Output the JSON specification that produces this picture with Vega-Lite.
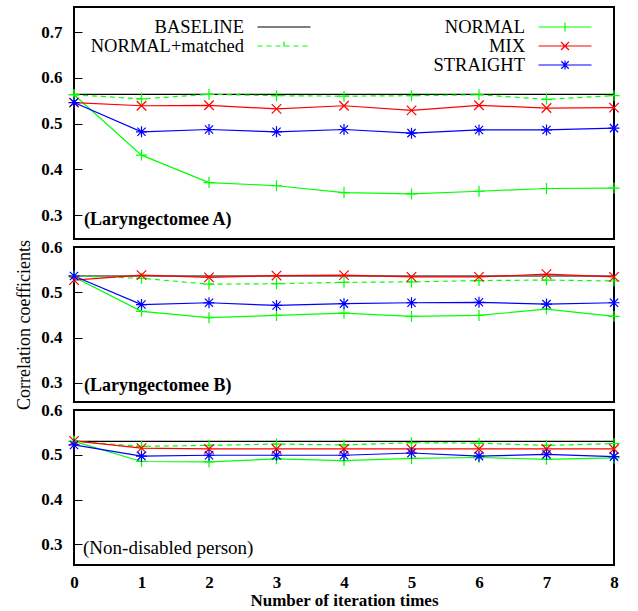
{
  "$schema": "https://vega.github.io/schema/vega-lite/v6.json",
  "padding": {"left": 14, "top": 6, "right": 10, "bottom": 5},
  "bounds": "flush",
  "spacing": 8,
  "config": {
    "font": "Liberation Serif, Times New Roman, DejaVu Serif, serif",
    "view": {"stroke": "black", "strokeWidth": 2},
    "axis": {"grid": false, "domain": false, "labelFont": "Liberation Serif, Times New Roman, DejaVu Serif, serif", "labelFontSize": 17, "labelFontWeight": "bold", "labelColor": "black", "tickColor": "black", "titleColor": "black", "titleFont": "Liberation Serif, Times New Roman, DejaVu Serif, serif"},
    "legend": {"labelFont": "Liberation Serif, Times New Roman, DejaVu Serif, serif", "labelFontSize": 18.5, "labelColor": "black", "symbolSize": 2809, "symbolStrokeWidth": 1.2, "rowPadding": -1.2, "padding": 0, "title": null, "orient": "none"},
    "text": {"font": "Liberation Serif, Times New Roman, DejaVu Serif, serif"}
  },
  "datasets": {
    "d": [
      {"p":"A","s":"BASELINE","x":0,"y":0.564},{"p":"A","s":"BASELINE","x":1,"y":0.564},{"p":"A","s":"BASELINE","x":2,"y":0.564},{"p":"A","s":"BASELINE","x":3,"y":0.564},{"p":"A","s":"BASELINE","x":4,"y":0.564},{"p":"A","s":"BASELINE","x":5,"y":0.564},{"p":"A","s":"BASELINE","x":6,"y":0.564},{"p":"A","s":"BASELINE","x":7,"y":0.564},{"p":"A","s":"BASELINE","x":8,"y":0.564},
      {"p":"A","s":"NORMAL+matched","x":0,"y":0.563},{"p":"A","s":"NORMAL+matched","x":1,"y":0.554},{"p":"A","s":"NORMAL+matched","x":2,"y":0.564},{"p":"A","s":"NORMAL+matched","x":3,"y":0.561},{"p":"A","s":"NORMAL+matched","x":4,"y":0.560},{"p":"A","s":"NORMAL+matched","x":5,"y":0.561},{"p":"A","s":"NORMAL+matched","x":6,"y":0.563},{"p":"A","s":"NORMAL+matched","x":7,"y":0.553},{"p":"A","s":"NORMAL+matched","x":8,"y":0.561},
      {"p":"A","s":"NORMAL","x":0,"y":0.563},{"p":"A","s":"NORMAL","x":1,"y":0.431},{"p":"A","s":"NORMAL","x":2,"y":0.371},{"p":"A","s":"NORMAL","x":3,"y":0.364},{"p":"A","s":"NORMAL","x":4,"y":0.349},{"p":"A","s":"NORMAL","x":5,"y":0.346},{"p":"A","s":"NORMAL","x":6,"y":0.352},{"p":"A","s":"NORMAL","x":7,"y":0.358},{"p":"A","s":"NORMAL","x":8,"y":0.359},
      {"p":"A","s":"MIX","x":0,"y":0.546},{"p":"A","s":"MIX","x":1,"y":0.539},{"p":"A","s":"MIX","x":2,"y":0.540},{"p":"A","s":"MIX","x":3,"y":0.532},{"p":"A","s":"MIX","x":4,"y":0.539},{"p":"A","s":"MIX","x":5,"y":0.529},{"p":"A","s":"MIX","x":6,"y":0.540},{"p":"A","s":"MIX","x":7,"y":0.534},{"p":"A","s":"MIX","x":8,"y":0.535},
      {"p":"A","s":"STRAIGHT","x":0,"y":0.546},{"p":"A","s":"STRAIGHT","x":1,"y":0.482},{"p":"A","s":"STRAIGHT","x":2,"y":0.487},{"p":"A","s":"STRAIGHT","x":3,"y":0.482},{"p":"A","s":"STRAIGHT","x":4,"y":0.487},{"p":"A","s":"STRAIGHT","x":5,"y":0.479},{"p":"A","s":"STRAIGHT","x":6,"y":0.486},{"p":"A","s":"STRAIGHT","x":7,"y":0.486},{"p":"A","s":"STRAIGHT","x":8,"y":0.490},
      {"p":"B","s":"BASELINE","x":0,"y":0.536},{"p":"B","s":"BASELINE","x":1,"y":0.536},{"p":"B","s":"BASELINE","x":2,"y":0.536},{"p":"B","s":"BASELINE","x":3,"y":0.536},{"p":"B","s":"BASELINE","x":4,"y":0.536},{"p":"B","s":"BASELINE","x":5,"y":0.536},{"p":"B","s":"BASELINE","x":6,"y":0.536},{"p":"B","s":"BASELINE","x":7,"y":0.536},{"p":"B","s":"BASELINE","x":8,"y":0.536},
      {"p":"B","s":"NORMAL+matched","x":0,"y":0.536},{"p":"B","s":"NORMAL+matched","x":1,"y":0.531},{"p":"B","s":"NORMAL+matched","x":2,"y":0.518},{"p":"B","s":"NORMAL+matched","x":3,"y":0.519},{"p":"B","s":"NORMAL+matched","x":4,"y":0.522},{"p":"B","s":"NORMAL+matched","x":5,"y":0.523},{"p":"B","s":"NORMAL+matched","x":6,"y":0.526},{"p":"B","s":"NORMAL+matched","x":7,"y":0.527},{"p":"B","s":"NORMAL+matched","x":8,"y":0.525},
      {"p":"B","s":"NORMAL","x":0,"y":0.534},{"p":"B","s":"NORMAL","x":1,"y":0.458},{"p":"B","s":"NORMAL","x":2,"y":0.444},{"p":"B","s":"NORMAL","x":3,"y":0.449},{"p":"B","s":"NORMAL","x":4,"y":0.454},{"p":"B","s":"NORMAL","x":5,"y":0.447},{"p":"B","s":"NORMAL","x":6,"y":0.449},{"p":"B","s":"NORMAL","x":7,"y":0.463},{"p":"B","s":"NORMAL","x":8,"y":0.447},
      {"p":"B","s":"MIX","x":0,"y":0.527},{"p":"B","s":"MIX","x":1,"y":0.538},{"p":"B","s":"MIX","x":2,"y":0.533},{"p":"B","s":"MIX","x":3,"y":0.537},{"p":"B","s":"MIX","x":4,"y":0.538},{"p":"B","s":"MIX","x":5,"y":0.534},{"p":"B","s":"MIX","x":6,"y":0.534},{"p":"B","s":"MIX","x":7,"y":0.540},{"p":"B","s":"MIX","x":8,"y":0.534},
      {"p":"B","s":"STRAIGHT","x":0,"y":0.536},{"p":"B","s":"STRAIGHT","x":1,"y":0.473},{"p":"B","s":"STRAIGHT","x":2,"y":0.477},{"p":"B","s":"STRAIGHT","x":3,"y":0.471},{"p":"B","s":"STRAIGHT","x":4,"y":0.475},{"p":"B","s":"STRAIGHT","x":5,"y":0.477},{"p":"B","s":"STRAIGHT","x":6,"y":0.478},{"p":"B","s":"STRAIGHT","x":7,"y":0.474},{"p":"B","s":"STRAIGHT","x":8,"y":0.477},
      {"p":"C","s":"BASELINE","x":0,"y":0.530},{"p":"C","s":"BASELINE","x":1,"y":0.530},{"p":"C","s":"BASELINE","x":2,"y":0.530},{"p":"C","s":"BASELINE","x":3,"y":0.530},{"p":"C","s":"BASELINE","x":4,"y":0.530},{"p":"C","s":"BASELINE","x":5,"y":0.530},{"p":"C","s":"BASELINE","x":6,"y":0.530},{"p":"C","s":"BASELINE","x":7,"y":0.530},{"p":"C","s":"BASELINE","x":8,"y":0.530},
      {"p":"C","s":"NORMAL+matched","x":0,"y":0.530},{"p":"C","s":"NORMAL+matched","x":1,"y":0.519},{"p":"C","s":"NORMAL+matched","x":2,"y":0.521},{"p":"C","s":"NORMAL+matched","x":3,"y":0.524},{"p":"C","s":"NORMAL+matched","x":4,"y":0.522},{"p":"C","s":"NORMAL+matched","x":5,"y":0.527},{"p":"C","s":"NORMAL+matched","x":6,"y":0.526},{"p":"C","s":"NORMAL+matched","x":7,"y":0.521},{"p":"C","s":"NORMAL+matched","x":8,"y":0.525},
      {"p":"C","s":"NORMAL","x":0,"y":0.530},{"p":"C","s":"NORMAL","x":1,"y":0.485},{"p":"C","s":"NORMAL","x":2,"y":0.484},{"p":"C","s":"NORMAL","x":3,"y":0.491},{"p":"C","s":"NORMAL","x":4,"y":0.487},{"p":"C","s":"NORMAL","x":5,"y":0.492},{"p":"C","s":"NORMAL","x":6,"y":0.494},{"p":"C","s":"NORMAL","x":7,"y":0.490},{"p":"C","s":"NORMAL","x":8,"y":0.493},
      {"p":"C","s":"MIX","x":0,"y":0.531},{"p":"C","s":"MIX","x":1,"y":0.515},{"p":"C","s":"MIX","x":2,"y":0.513},{"p":"C","s":"MIX","x":3,"y":0.513},{"p":"C","s":"MIX","x":4,"y":0.513},{"p":"C","s":"MIX","x":5,"y":0.513},{"p":"C","s":"MIX","x":6,"y":0.513},{"p":"C","s":"MIX","x":7,"y":0.513},{"p":"C","s":"MIX","x":8,"y":0.513},
      {"p":"C","s":"STRAIGHT","x":0,"y":0.522},{"p":"C","s":"STRAIGHT","x":1,"y":0.497},{"p":"C","s":"STRAIGHT","x":2,"y":0.499},{"p":"C","s":"STRAIGHT","x":3,"y":0.499},{"p":"C","s":"STRAIGHT","x":4,"y":0.499},{"p":"C","s":"STRAIGHT","x":5,"y":0.504},{"p":"C","s":"STRAIGHT","x":6,"y":0.497},{"p":"C","s":"STRAIGHT","x":7,"y":0.501},{"p":"C","s":"STRAIGHT","x":8,"y":0.496}
    ]
  },
  "vconcat": [
    {
      "width": 540, "height": 232,
      "data": {"name": "d"},
      "transform": [{"filter": "datum.p === 'A'"}],
      "encoding": {
        "x": {"field": "x", "type": "quantitative", "scale": {"domain": [0, 8], "nice": false, "zero": false}, "axis": null},
        "y": {"field": "y", "type": "quantitative", "scale": {"domain": [0.2475, 0.755], "nice": false, "zero": false}, "axis": {"title": null, "values": [0.3, 0.4, 0.5, 0.6, 0.7], "format": ".1f", "tickSize": -8, "labelPadding": 20}}
      },
      "layer": [
        {
          "transform": [{"filter": "datum.s === 'BASELINE' || datum.s === 'NORMAL+matched'"}],
          "encoding": {"color": {"field": "s", "type": "nominal", "scale": {"domain": ["BASELINE", "NORMAL+matched"], "range": ["#000000", "#00ff00"]},
            "legend": {"legendX": 170, "legendY": 11, "encode": {
              "labels": {"update": {"x": {"value": 0}, "y": {"value": 9}, "align": {"value": "right"}, "baseline": {"value": "middle"}}},
              "symbols": {"update": {"x": {"value": 40}, "y": {"value": 9}, "fill": {"value": "transparent"}, "shape": {"signal": "datum.value === 'BASELINE' ? 'M-1,0H1' : 'M-1,0H1M0,-0.17V0.17'"}, "strokeDash": {"signal": "datum.value === 'NORMAL+matched' ? [5,4] : []"}}}}}}},
          "layer": [
            {"mark": {"type": "line", "strokeWidth": 1.2}, "encoding": {"strokeDash": {"field": "s", "type": "nominal", "scale": {"domain": ["BASELINE", "NORMAL+matched"], "range": [[1, 0], [5, 4]]}, "legend": null}}},
            {"transform": [{"filter": "datum.s === 'NORMAL+matched'"}], "mark": {"type": "point", "filled": false, "strokeWidth": 1.2, "size": 121, "shape": "M-1,0H1M0,-1V1", "opacity": 1}}
          ]
        },
        {
          "transform": [{"filter": "datum.s === 'NORMAL' || datum.s === 'MIX' || datum.s === 'STRAIGHT'"}],
          "encoding": {"color": {"field": "s", "type": "nominal", "scale": {"domain": ["NORMAL", "MIX", "STRAIGHT"], "range": ["#00ff00", "#ff0000", "#0000ff"]},
            "legend": {"legendX": 451, "legendY": 11, "encode": {
              "labels": {"update": {"x": {"value": 0}, "y": {"value": 9}, "align": {"value": "right"}, "baseline": {"value": "middle"}}},
              "symbols": {"update": {"x": {"value": 40}, "y": {"value": 9}, "fill": {"value": "transparent"}, "shape": {"signal": "datum.value === 'NORMAL' ? 'M-1,0H1M0,-0.17V0.17' : datum.value === 'MIX' ? 'M-1,0H1M-0.15,-0.15L0.15,0.15M-0.15,0.15L0.15,-0.15' : 'M-1,0H1M0,-0.17V0.17M-0.14,-0.14L0.14,0.14M-0.14,0.14L0.14,-0.14'"}}}}}}},
          "layer": [
            {"mark": {"type": "line", "strokeWidth": 1.2}},
            {"transform": [{"filter": "datum.s === 'NORMAL'"}], "mark": {"type": "point", "filled": false, "strokeWidth": 1.2, "opacity": 1, "size": 121, "shape": "M-1,0H1M0,-1V1"}},
            {"transform": [{"filter": "datum.s === 'MIX'"}], "mark": {"type": "point", "filled": false, "strokeWidth": 1.2, "opacity": 1, "size": 90, "shape": "M-1,-1L1,1M-1,1L1,-1"}},
            {"transform": [{"filter": "datum.s === 'STRAIGHT'"}], "mark": {"type": "point", "filled": false, "strokeWidth": 1.2, "opacity": 1, "size": 121, "shape": "M-1,0H1M0,-1V1M-0.75,-0.75L0.75,0.75M-0.75,0.75L0.75,-0.75"}}
          ]
        },
        {
          "transform": [{"filter": "datum.s === 'BASELINE' && datum.x === 0"}],
          "mark": {"type": "text", "align": "left", "baseline": "middle", "dx": 10, "dy": 5, "fontSize": 18, "fontWeight": "bold", "color": "black"},
          "encoding": {"y": {"datum": 0.3, "type": "quantitative"}, "text": {"value": "(Laryngectomee A)"}}
        }
      ],
      "resolve": {"scale": {"color": "independent", "strokeDash": "independent"}}
    },
    {
      "width": 540, "height": 155,
      "data": {"name": "d"},
      "transform": [{"filter": "datum.p === 'B'"}],
      "encoding": {
        "x": {"field": "x", "type": "quantitative", "scale": {"domain": [0, 8], "nice": false, "zero": false}, "axis": null},
        "y": {"field": "y", "type": "quantitative", "scale": {"domain": [0.258, 0.6], "nice": false, "zero": false}, "axis": {"title": "Correlation coefficients", "titleFontSize": 18, "titleFontWeight": "normal", "titlePadding": 7, "values": [0.3, 0.4, 0.5, 0.6], "format": ".1f", "tickSize": -8, "labelPadding": 20}}
      },
      "layer": [
        {
          "transform": [{"filter": "datum.s === 'BASELINE' || datum.s === 'NORMAL+matched'"}],
          "encoding": {"color": {"field": "s", "type": "nominal", "scale": {"domain": ["BASELINE", "NORMAL+matched"], "range": ["#000000", "#00ff00"]}, "legend": null}},
          "layer": [
            {"mark": {"type": "line", "strokeWidth": 1.2}, "encoding": {"strokeDash": {"field": "s", "type": "nominal", "scale": {"domain": ["BASELINE", "NORMAL+matched"], "range": [[1, 0], [5, 4]]}, "legend": null}}},
            {"transform": [{"filter": "datum.s === 'NORMAL+matched'"}], "mark": {"type": "point", "filled": false, "strokeWidth": 1.2, "size": 121, "shape": "M-1,0H1M0,-1V1", "opacity": 1}}
          ]
        },
        {
          "transform": [{"filter": "datum.s === 'NORMAL' || datum.s === 'MIX' || datum.s === 'STRAIGHT'"}],
          "encoding": {"color": {"field": "s", "type": "nominal", "scale": {"domain": ["NORMAL", "MIX", "STRAIGHT"], "range": ["#00ff00", "#ff0000", "#0000ff"]}, "legend": null}},
          "layer": [
            {"mark": {"type": "line", "strokeWidth": 1.2}},
            {"transform": [{"filter": "datum.s === 'NORMAL'"}], "mark": {"type": "point", "filled": false, "strokeWidth": 1.2, "opacity": 1, "size": 121, "shape": "M-1,0H1M0,-1V1"}},
            {"transform": [{"filter": "datum.s === 'MIX'"}], "mark": {"type": "point", "filled": false, "strokeWidth": 1.2, "opacity": 1, "size": 90, "shape": "M-1,-1L1,1M-1,1L1,-1"}},
            {"transform": [{"filter": "datum.s === 'STRAIGHT'"}], "mark": {"type": "point", "filled": false, "strokeWidth": 1.2, "opacity": 1, "size": 121, "shape": "M-1,0H1M0,-1V1M-0.75,-0.75L0.75,0.75M-0.75,0.75L0.75,-0.75"}}
          ]
        },
        {
          "transform": [{"filter": "datum.s === 'BASELINE' && datum.x === 0"}],
          "mark": {"type": "text", "align": "left", "baseline": "middle", "dx": 10, "dy": 3, "fontSize": 18, "fontWeight": "bold", "color": "black"},
          "encoding": {"y": {"datum": 0.3, "type": "quantitative"}, "text": {"value": "(Laryngectomee B)"}}
        }
      ],
      "resolve": {"scale": {"color": "independent", "strokeDash": "independent"}}
    },
    {
      "width": 540, "height": 155,
      "data": {"name": "d"},
      "transform": [{"filter": "datum.p === 'C'"}],
      "encoding": {
        "x": {"field": "x", "type": "quantitative", "scale": {"domain": [0, 8], "nice": false, "zero": false}, "axis": {"title": "Number of iteration times", "titleFontSize": 17, "titleFontWeight": "bold", "titlePadding": 2, "values": [0, 1, 2, 3, 4, 5, 6, 7, 8], "format": "d", "tickSize": 0, "ticks": false, "labelPadding": 9, "labelFlush": false}},
        "y": {"field": "y", "type": "quantitative", "scale": {"domain": [0.254, 0.6], "nice": false, "zero": false}, "axis": {"title": null, "values": [0.3, 0.4, 0.5, 0.6], "format": ".1f", "tickSize": -8, "labelPadding": 20}}
      },
      "layer": [
        {
          "transform": [{"filter": "datum.s === 'BASELINE' || datum.s === 'NORMAL+matched'"}],
          "encoding": {"color": {"field": "s", "type": "nominal", "scale": {"domain": ["BASELINE", "NORMAL+matched"], "range": ["#000000", "#00ff00"]}, "legend": null}},
          "layer": [
            {"mark": {"type": "line", "strokeWidth": 1.2}, "encoding": {"strokeDash": {"field": "s", "type": "nominal", "scale": {"domain": ["BASELINE", "NORMAL+matched"], "range": [[1, 0], [5, 4]]}, "legend": null}}},
            {"transform": [{"filter": "datum.s === 'NORMAL+matched'"}], "mark": {"type": "point", "filled": false, "strokeWidth": 1.2, "size": 121, "shape": "M-1,0H1M0,-1V1", "opacity": 1}}
          ]
        },
        {
          "transform": [{"filter": "datum.s === 'NORMAL' || datum.s === 'MIX' || datum.s === 'STRAIGHT'"}],
          "encoding": {"color": {"field": "s", "type": "nominal", "scale": {"domain": ["NORMAL", "MIX", "STRAIGHT"], "range": ["#00ff00", "#ff0000", "#0000ff"]}, "legend": null}},
          "layer": [
            {"mark": {"type": "line", "strokeWidth": 1.2}},
            {"transform": [{"filter": "datum.s === 'NORMAL'"}], "mark": {"type": "point", "filled": false, "strokeWidth": 1.2, "opacity": 1, "size": 121, "shape": "M-1,0H1M0,-1V1"}},
            {"transform": [{"filter": "datum.s === 'MIX'"}], "mark": {"type": "point", "filled": false, "strokeWidth": 1.2, "opacity": 1, "size": 90, "shape": "M-1,-1L1,1M-1,1L1,-1"}},
            {"transform": [{"filter": "datum.s === 'STRAIGHT'"}], "mark": {"type": "point", "filled": false, "strokeWidth": 1.2, "opacity": 1, "size": 121, "shape": "M-1,0H1M0,-1V1M-0.75,-0.75L0.75,0.75M-0.75,0.75L0.75,-0.75"}}
          ]
        },
        {
          "transform": [{"filter": "datum.s === 'BASELINE' && datum.x === 0"}],
          "mark": {"type": "text", "align": "left", "baseline": "middle", "dx": 9, "dy": 4, "fontSize": 19, "fontWeight": "normal", "color": "black"},
          "encoding": {"y": {"datum": 0.3, "type": "quantitative"}, "text": {"value": "(Non-disabled person)"}}
        }
      ],
      "resolve": {"scale": {"color": "independent", "strokeDash": "independent"}}
    }
  ],
  "resolve": {"scale": {"color": "independent", "strokeDash": "independent"}}
}
